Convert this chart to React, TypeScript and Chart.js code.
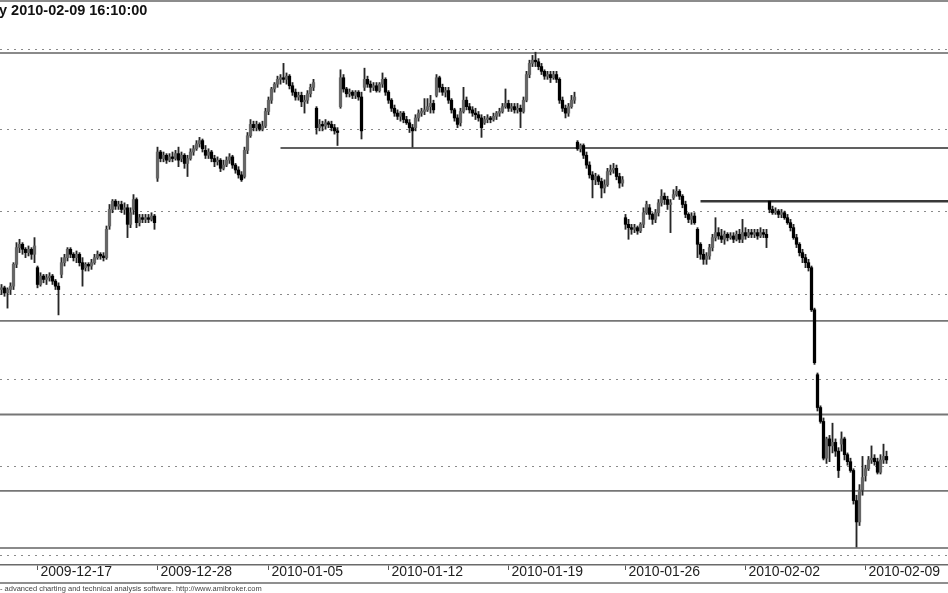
import React, { useEffect, useRef } from "react";
import { Chart, registerables } from "chart.js";

Chart.register(...registerables);

// Hourly OHLC bars (one bar per slot, slot 0 = first bar on the left)
const opens = [
  2403, 2404, 2401, 2403, 2405, 2418, 2428, 2430, 2427, 2425, 2427, 2424,
  2416, 2406, 2411, 2409, 2410, 2411, 2408, 2405,
  2412, 2419, 2422, 2427, 2424, 2422, 2424, 2419,
  2416, 2418, 2417, 2419, 2422, 2424, 2423, 2422,
  2441, 2451, 2456, 2453, 2454, 2451, 2452, 2442,
  2451, 2457, 2443, 2446, 2445, 2446, 2445, 2447,
  2470, 2486, 2482, 2484, 2481, 2483, 2482, 2485,
  2482, 2484, 2479, 2482, 2486, 2488, 2491, 2493,
  2487, 2484, 2486, 2482, 2480, 2481, 2476, 2478,
  2481, 2483, 2478, 2475, 2472, 2471, 2487, 2496,
  2503, 2501, 2503, 2500, 2502,
  2511, 2518, 2525, 2528, 2531, 2532, 2531, 2533,
  2527, 2523, 2520, 2521, 2517, 2518, 2522, 2526,
  2513, 2501, 2503, 2502, 2504, 2503, 2501, 2499,
  2514, 2532, 2525, 2522, 2523, 2521, 2523, 2520,
  2526, 2531, 2528, 2526, 2527, 2524, 2528, 2531,
  2523, 2518, 2513, 2510, 2508, 2510, 2506, 2504,
  2501, 2501, 2507, 2510, 2511, 2512, 2514, 2516,
  2521, 2532, 2526, 2523, 2524, 2518, 2512, 2507,
  2504, 2511, 2518, 2514, 2512, 2510, 2509, 2507,
  2504, 2506, 2507, 2506, 2508, 2510, 2511, 2514,
  2516, 2513, 2514, 2512, 2513, 2511, 2518, 2534,
  2541, 2543, 2542, 2539, 2536, 2533, 2534, 2532,
  2534, 2531, 2518, 2513, 2510, 2514, 2518, 2492,
  2488, 2490, 2484, 2478, 2472, 2469, 2471, 2468,
  2464, 2466, 2474, 2475, 2476, 2471, 2467,
  2446, 2442, 2440, 2439, 2440, 2438, 2442, 2449,
  2452, 2448, 2445, 2449, 2455, 2459, 2457, 2454,
  2458, 2460, 2462, 2459, 2454, 2448, 2445, 2447,
  2439, 2430, 2424, 2421, 2423, 2428, 2434, 2437,
  2435, 2433, 2436, 2434, 2435, 2433, 2436, 2433,
  2437, 2435, 2437, 2436, 2437, 2435, 2437, 2436,
  2456, 2451, 2449, 2450, 2448, 2449, 2446, 2443,
  2440, 2434, 2430, 2425, 2422, 2419, 2416, 2391,
  2353, 2334, 2326, 2305, 2316, 2312, 2314, 2309,
  2313, 2316, 2307, 2303, 2298, 2281, 2269, 2287,
  2295, 2299, 2304, 2305, 2303, 2297, 2304, 2306,
];

const highs = [
  2406, 2405, 2404, 2407, 2419, 2431, 2433, 2431, 2428, 2429, 2428, 2434,
  2417, 2413, 2412, 2412, 2413, 2412, 2409, 2407,
  2422, 2424, 2428, 2428, 2425, 2426, 2425, 2422,
  2419, 2419, 2421, 2424, 2426, 2425, 2425, 2441,
  2454, 2457, 2457, 2456, 2456, 2455, 2454, 2452,
  2460, 2458, 2448, 2448, 2448, 2448, 2449, 2448,
  2489, 2487, 2486, 2485, 2485, 2486, 2487, 2489,
  2486, 2485, 2484, 2488, 2490, 2493, 2495, 2494,
  2490, 2488, 2487, 2484, 2483, 2482, 2481, 2483,
  2485, 2484, 2479, 2477, 2474, 2489, 2498, 2506,
  2505, 2505, 2504, 2505, 2513,
  2520, 2526, 2529, 2533, 2534, 2541, 2535, 2534,
  2529, 2525, 2523, 2523, 2521, 2524, 2528, 2531,
  2514, 2506, 2505, 2506, 2505, 2505, 2503, 2501,
  2537, 2534, 2526, 2525, 2524, 2524, 2524, 2523,
  2538, 2533, 2530, 2529, 2529, 2529, 2535, 2532,
  2524, 2519, 2515, 2512, 2511, 2511, 2508, 2506,
  2503, 2509, 2512, 2513, 2519, 2519, 2521, 2518,
  2534, 2533, 2528, 2526, 2526, 2519, 2513, 2509,
  2513, 2526, 2520, 2516, 2514, 2513, 2511, 2509,
  2508, 2509, 2508, 2510, 2511, 2513, 2516, 2525,
  2518, 2516, 2516, 2516, 2515, 2520, 2536, 2543,
  2546, 2548, 2544, 2541, 2537, 2536, 2536, 2536,
  2536, 2532, 2520, 2515, 2516, 2521, 2523, 2493,
  2491, 2491, 2486, 2480, 2474, 2473, 2472, 2470,
  2469, 2476, 2478, 2479, 2478, 2473, 2471,
  2448, 2445, 2442, 2442, 2441, 2443, 2452, 2456,
  2454, 2449, 2451, 2457, 2463, 2461, 2459, 2457,
  2463, 2465, 2463, 2460, 2456, 2449, 2449, 2449,
  2440, 2431, 2427, 2425, 2430, 2436, 2446, 2440,
  2439, 2438, 2437, 2437, 2437, 2438, 2439, 2445,
  2440, 2439, 2439, 2439, 2439, 2440, 2439, 2439,
  2456, 2453, 2452, 2451, 2451, 2450, 2448, 2445,
  2442, 2436, 2431, 2427, 2424, 2421, 2417, 2392,
  2354, 2335, 2328, 2317, 2318, 2325, 2316, 2311,
  2320, 2317, 2308, 2305, 2299, 2284, 2290, 2306,
  2301, 2306, 2312, 2307, 2305, 2307, 2313, 2309,
];

const lows = [
  2400, 2399, 2392, 2400, 2403, 2416, 2425, 2424, 2422, 2423, 2421, 2419,
  2404, 2405, 2407, 2406, 2408, 2406, 2403, 2388,
  2410, 2417, 2420, 2422, 2420, 2419, 2417, 2405,
  2414, 2414, 2415, 2418, 2421, 2421, 2420, 2421,
  2439, 2449, 2451, 2451, 2449, 2448, 2434, 2440,
  2448, 2440, 2441, 2443, 2443, 2443, 2444, 2439,
  2468, 2480, 2480, 2479, 2480, 2480, 2481, 2477,
  2480, 2476, 2471, 2481, 2484, 2487, 2489, 2486,
  2482, 2482, 2480, 2477, 2478, 2474, 2475, 2477,
  2479, 2476, 2473, 2470, 2468, 2470, 2485, 2495,
  2499, 2499, 2499, 2499, 2501,
  2509, 2516, 2523, 2526, 2528, 2529, 2528, 2525,
  2521, 2518, 2518, 2514, 2510, 2516, 2520, 2524,
  2497, 2499, 2499, 2500, 2501, 2499, 2497, 2490,
  2513, 2523, 2520, 2520, 2519, 2519, 2518, 2494,
  2524, 2526, 2523, 2524, 2523, 2523, 2526, 2521,
  2516, 2511, 2508, 2506, 2505, 2504, 2503, 2498,
  2489, 2499, 2505, 2508, 2509, 2511, 2510, 2510,
  2520, 2523, 2521, 2520, 2516, 2510, 2505, 2501,
  2502, 2510, 2512, 2510, 2508, 2506, 2505, 2495,
  2503, 2504, 2504, 2505, 2506, 2508, 2510, 2513,
  2511, 2511, 2510, 2510, 2501, 2510, 2517, 2532,
  2539, 2539, 2537, 2534, 2531, 2531, 2529, 2531,
  2529, 2516, 2511, 2507, 2508, 2513, 2516, 2487,
  2486, 2482, 2476, 2470, 2458, 2466, 2466, 2458,
  2461, 2465, 2472, 2473, 2469, 2464, 2465,
  2439, 2433, 2436, 2437, 2436, 2437, 2440, 2448,
  2445, 2442, 2443, 2447, 2453, 2454, 2451, 2437,
  2457, 2459, 2457, 2452, 2446, 2443, 2442, 2442,
  2422, 2421, 2418, 2418, 2421, 2426, 2432, 2433,
  2431, 2430, 2432, 2433, 2431, 2432, 2431, 2431,
  2433, 2434, 2434, 2434, 2433, 2434, 2434, 2428,
  2449, 2448, 2448, 2446, 2446, 2445, 2442, 2438,
  2433, 2428, 2423, 2419, 2416, 2414, 2390, 2359,
  2332, 2325, 2304, 2302, 2303, 2308, 2306, 2294,
  2309, 2304, 2301, 2297, 2279, 2255, 2267, 2284,
  2292, 2298, 2302, 2301, 2296, 2296, 2302, 2302,
];

const closes = [
  2404, 2401, 2403, 2405, 2418, 2428, 2430, 2427, 2425, 2427, 2424, 2429,
  2406, 2411, 2409, 2410, 2411, 2408, 2405, 2403,
  2419, 2422, 2427, 2424, 2422, 2424, 2419, 2415,
  2418, 2417, 2419, 2422, 2424, 2423, 2422, 2439,
  2451, 2456, 2453, 2454, 2451, 2452, 2442, 2449,
  2457, 2443, 2446, 2445, 2446, 2445, 2447, 2443,
  2486, 2482, 2484, 2481, 2483, 2482, 2485, 2481,
  2484, 2479, 2482, 2486, 2488, 2491, 2493, 2488,
  2484, 2486, 2482, 2480, 2481, 2476, 2478, 2481,
  2483, 2478, 2475, 2472, 2469, 2487, 2496, 2503,
  2501, 2503, 2500, 2502, 2511,
  2518, 2525, 2528, 2531, 2532, 2531, 2533, 2527,
  2523, 2520, 2521, 2517, 2518, 2522, 2526, 2529,
  2501, 2503, 2502, 2504, 2503, 2501, 2499, 2498,
  2532, 2525, 2522, 2523, 2521, 2523, 2520, 2499,
  2531, 2528, 2526, 2527, 2524, 2528, 2531, 2523,
  2518, 2513, 2510, 2508, 2510, 2506, 2504, 2501,
  2499, 2507, 2510, 2511, 2512, 2514, 2516, 2512,
  2532, 2526, 2523, 2524, 2518, 2512, 2507, 2503,
  2511, 2518, 2514, 2512, 2510, 2509, 2507, 2501,
  2506, 2507, 2506, 2508, 2510, 2511, 2514, 2516,
  2513, 2514, 2512, 2513, 2511, 2518, 2534, 2541,
  2543, 2542, 2539, 2536, 2533, 2534, 2532, 2534,
  2531, 2518, 2513, 2510, 2514, 2518, 2520, 2488,
  2490, 2484, 2478, 2472, 2469, 2471, 2468, 2464,
  2466, 2474, 2475, 2476, 2471, 2467, 2469,
  2442, 2440, 2439, 2440, 2438, 2442, 2449, 2454,
  2448, 2445, 2449, 2455, 2459, 2457, 2454, 2455,
  2460, 2462, 2459, 2454, 2448, 2445, 2447, 2443,
  2430, 2424, 2421, 2423, 2428, 2434, 2437, 2435,
  2433, 2436, 2434, 2435, 2433, 2436, 2433, 2437,
  2435, 2437, 2436, 2437, 2435, 2437, 2436, 2434,
  2451, 2449, 2450, 2448, 2449, 2446, 2443, 2440,
  2434, 2430, 2425, 2422, 2419, 2416, 2391, 2360,
  2334, 2326, 2305, 2316, 2312, 2314, 2309, 2298,
  2316, 2307, 2303, 2298, 2281, 2269, 2287, 2294,
  2299, 2304, 2305, 2303, 2297, 2304, 2306, 2304,
];

// Date axis: bar slot where each labelled session starts
const dateTickBars = [12, 52, 89, 129, 169, 208, 248, 288];
const dateTickLabels = [
  "2009-12-17",
  "2009-12-28",
  "2010-01-05",
  "2010-01-12",
  "2010-01-19",
  "2010-01-26",
  "2010-02-02",
  "2010-02-09",
];

// Dotted price grid (log scale) and drawn horizontal levels
const priceGrid = [2250, 2300, 2350, 2400, 2450, 2500, 2550];
const levelPrices = [2547.5, 2488.5, 2456, 2384.5, 2330, 2286.5, 2254.5];
const levelFromBar: (number | null)[] = [null, 93, 233, null, null, null, null];

const titleText = "y 2010-02-09 16:10:00";
const footerText =
  "- advanced charting and technical analysis software. http://www.amibroker.com";

const X_MIN = -0.5;
const X_MAX = 315.5;
const Y_MIN = 2245;
const Y_MAX = 2579.8;

const levelStyles = [
  { color: "#8a8a8a", width: 2 },
  { color: "#606060", width: 2 },
  { color: "#383838", width: 2.5 },
  { color: "#767676", width: 1.8 },
  { color: "#767676", width: 1.8 },
  { color: "#767676", width: 1.8 },
  { color: "#8a8a8a", width: 2 },
];

const FONT = '"Liberation Sans", Arial, Helvetica, sans-serif';

const decorPlugin = {
  id: "amiDecor",
  afterDraw(chart: any) {
    const { ctx, width, chartArea } = chart;
    ctx.save();
    // pane top border
    ctx.strokeStyle = "#8c8c8c";
    ctx.lineWidth = 2;
    ctx.beginPath();
    ctx.moveTo(0, 1);
    ctx.lineTo(width, 1);
    ctx.stroke();
    // bottom border of date strip
    ctx.strokeStyle = "#6a6a6a";
    ctx.lineWidth = 1.5;
    ctx.beginPath();
    ctx.moveTo(0, chartArea.bottom + 18);
    ctx.lineTo(width, chartArea.bottom + 18);
    ctx.stroke();
    // title
    ctx.fillStyle = "#111";
    ctx.font = `bold 14.5px ${FONT}`;
    ctx.textBaseline = "alphabetic";
    ctx.textAlign = "left";
    ctx.fillText(titleText, -1, 15);
    // footer
    ctx.fillStyle = "#444";
    ctx.font = `7.5px ${FONT}`;
    ctx.textBaseline = "bottom";
    ctx.fillText(footerText, 0, chart.height);
    ctx.restore();
  },
};

export default function App() {
  const ref = useRef<HTMLCanvasElement>(null);

  useEffect(() => {
    const canvas = ref.current;
    if (!canvas) return;

    const bodies = closes.map((c, i) => ({ x: i, y: [opens[i], c] }));
    const wicks = highs.map((h, i) => ({ x: i, y: [lows[i], h] }));
    const bodyColors = closes.map((c, i) => (c > opens[i] ? "#666666" : "#000000"));

    const levelSets = levelPrices.map((p, k) => ({
      type: "line" as const,
      data: [
        { x: levelFromBar[k] ?? X_MIN, y: p },
        { x: X_MAX, y: p },
      ],
      borderColor: levelStyles[k].color,
      borderWidth: levelStyles[k].width,
      pointRadius: 0,
      fill: false,
      tension: 0,
      order: 3,
    }));

    const chart = new Chart(canvas, {
      type: "bar",
      data: {
        datasets: [
          {
            type: "bar",
            data: bodies as any,
            backgroundColor: bodyColors,
            barThickness: 2.6,
            grouped: false,
            minBarLength: 1.5,
            order: 0,
          } as any,
          {
            type: "bar",
            data: wicks as any,
            backgroundColor: "#262626",
            barThickness: 1.2,
            grouped: false,
            order: 1,
          } as any,
          ...(levelSets as any[]),
        ],
      },
      plugins: [decorPlugin],
      options: {
        responsive: false,
        animation: false,
        devicePixelRatio: 1,
        events: [],
        layout: { padding: { top: 2, left: 0, right: 0, bottom: 0 } },
        plugins: {
          legend: { display: false },
          tooltip: { enabled: false },
          title: { display: false },
        },
        scales: {
          x: {
            type: "linear",
            min: X_MIN,
            max: X_MAX,
            bounds: "data",
            offset: false,
            afterBuildTicks: (s: any) => {
              s.ticks = dateTickBars.map((v) => ({ value: v }));
            },
            afterFit: (s: any) => {
              s.height = 28;
            },
            grid: {
              display: true,
              offset: false,
              drawOnChartArea: false,
              drawTicks: true,
              tickLength: 5,
              color: "#555",
              lineWidth: 1,
            },
            border: { display: true, color: "#6a6a6a", width: 1.5 },
            ticks: {
              autoSkip: false,
              maxRotation: 0,
              minRotation: 0,
              align: "start",
              labelOffset: 3,
              padding: -5,
              color: "#1e1e1e",
              font: { family: FONT, size: 14, lineHeight: 1 },
              callback: (v: any) => {
                const k = dateTickBars.indexOf(Number(v));
                return k >= 0 ? dateTickLabels[k] : "";
              },
            },
          } as any,
          y: {
            type: "logarithmic",
            position: "right",
            min: Y_MIN,
            max: Y_MAX,
            bounds: "data",
            afterBuildTicks: (s: any) => {
              s.ticks = priceGrid.map((v) => ({ value: v }));
            },
            afterFit: (s: any) => {
              s.width = 0;
            },
            ticks: { display: false },
            grid: {
              display: true,
              drawTicks: false,
              drawOnChartArea: true,
              color: "#8a8a8a",
              lineWidth: 1,
            },
            border: { display: false, dash: [2, 5] },
          } as any,
        },
      },
    });

    return () => chart.destroy();
  }, []);

  return (
    <div
      style={{
        position: "absolute",
        left: 0,
        top: 0,
        width: 948,
        height: 593,
        background: "#fff",
        overflow: "hidden",
      }}
    >
      <canvas ref={ref} width={948} height={593} style={{ display: "block" }} />
    </div>
  );
}
